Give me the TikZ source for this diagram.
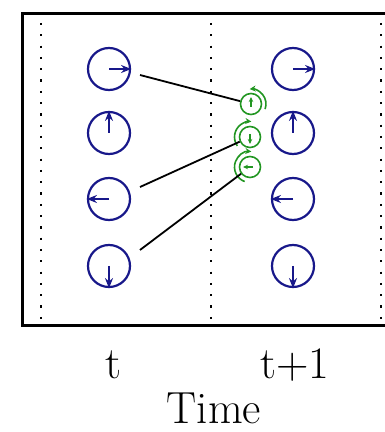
\documentclass[tikz,border=0pt]{standalone}
\usepackage{tikz}
\usetikzlibrary{arrows.meta}
\definecolor{phaseblue}{RGB}{24,24,138}
\definecolor{phasegreen}{RGB}{34,150,34}

\begin{document}
\begin{tikzpicture}[x=1pt,y=1pt,
  spin/.style={circle, draw=phaseblue, line width=2.2pt, minimum size=42pt, inner sep=0pt},
  spinarrow/.style={-{Stealth[length=10pt,width=8pt]}, draw=phaseblue, line width=1.8pt},
  mix/.style={circle, draw=phasegreen, line width=1.6pt, minimum size=21pt, inner sep=0pt},
  mixarrow/.style={-{Stealth[length=5pt,width=4.5pt]}, draw=phasegreen, line width=1.2pt},
  turn/.style={-{Stealth[length=6pt,width=6pt]}, draw=phasegreen, line width=1.6pt},
  link/.style={draw=black, line width=1.8pt},
  timetext/.style={inner sep=0pt, anchor=base, font=\fontsize{45}{54}\selectfont}]
  \useasboundingbox (0,0) rectangle (385,432);

  % Frame (open to the right)
  \begin{scope}
    \clip (0,0) rectangle (385,432);
    \draw[line width=3pt] (400,418) -- (22.7,418) -- (22.7,106) -- (400,106);
  \end{scope}

  % Dotted time slices
  \foreach \x in {40.7,210.7,380.7}
    \draw[line width=2.2pt, dash pattern=on 2.2pt off 9.1pt] (\x,409) -- (\x,107);

  % Phase circles at t and t+1
  \foreach \col/\x in {l/109,r/293} {
    \foreach \row/\y/\ang in {1/363/0,2/299/90,3/233/180,4/166/270} {
      \node[spin] (\col\row) at (\x,\y) {};
      \draw[spinarrow] (\col\row.center) -- (\col\row.\ang);
    }
  }

  % Mixed states with rotation
  \node[mix] (g1) at (251,328) {};
  \node[mix] (g2) at (250,295) {};
  \node[mix] (g3) at (250,265) {};
  \draw[mixarrow] (g1.center) ++(0,-3) -- ++(0,10);
  \draw[mixarrow] (g2.center) ++(0,3) -- ++(0,-10);
  \draw[mixarrow] (g3.center) ++(3,0) -- ++(-10,0);
  \draw[turn] (g1.center) ++(-20:15) arc[start angle=-20, end angle=95, radius=15];
  \draw[turn] (g2.center) ++(215:15.5) arc[start angle=215, end angle=85, radius=15.5];
  \draw[turn] (g3.center) ++(250:15.5) arc[start angle=250, end angle=85, radius=15.5];

  % Links
  \coordinate (s1) at (140,357);
  \coordinate (s3) at (140,245);
  \coordinate (s4) at (140,182);
  \draw[link] (s1) -- (g1);
  \draw[link] (s3) -- (g2);
  \draw[link] (s4) -- (g3);

  % Axis labels
  \node[timetext] (tnow) at (113,53) {t};
  \node[timetext] (tnext) at (295,53) {t+1};
  \node[timetext] (axis) at (214,9) {Time};
\end{tikzpicture}
\end{document}
